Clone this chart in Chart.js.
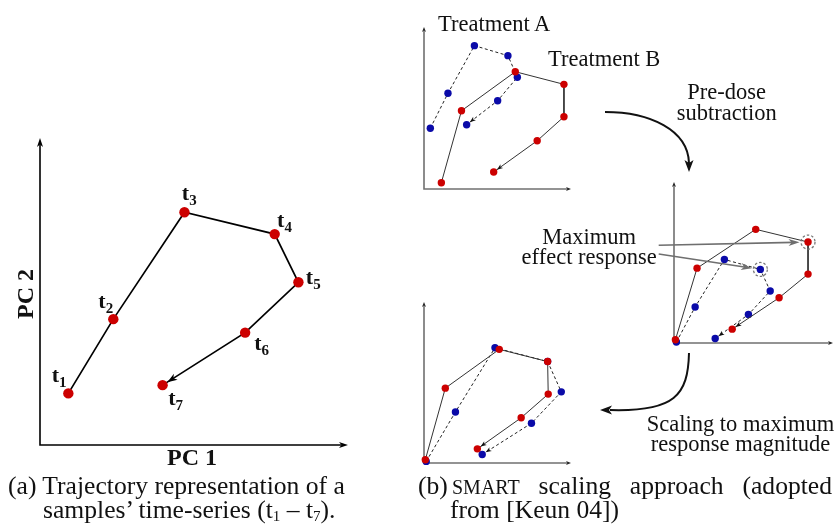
<!DOCTYPE html>
<html>
<head>
<meta charset="utf-8">
<script src="https://cdn.jsdelivr.net/npm/chart.js@4.4.1/dist/chart.umd.min.js"></script>
<style>
  html, body { margin: 0; padding: 0; background: #fff; }
  body { width: 837px; height: 531px; position: relative; overflow: hidden;
         font-family: "Liberation Serif", "DejaVu Serif", serif; color: #111; }
  .panel { position: absolute; }
  .panel canvas { display: block; }
  .note { position: absolute; white-space: nowrap; font-size: 22.5px; line-height: 22.5px; }
  .note.c { width: 300px; text-align: center; }
  .cap { position: absolute; white-space: nowrap; font-size: 25.6px; line-height: 25.6px; }
  .cap sub { font-size: 15px; vertical-align: -3px; line-height: 0; }
  .axis-title { position: absolute; white-space: nowrap; font-weight: bold; font-size: 24px; line-height: 24px; }
  svg.connectors { position: absolute; left: 0; top: 0; pointer-events: none; }
</style>
</head>
<body>

<!-- (a) trajectory in PC space -->
<div class="panel" style="left:0;top:0"><canvas id="trajectory" width="370" height="470"></canvas></div>
<div class="axis-title" style="left:192px;top:445px;transform:translateX(-50%)">PC 1</div>
<div class="axis-title" style="left:25px;top:294px;transform:translate(-50%,-50%) rotate(-90deg)">PC 2</div>

<!-- (b) three stages of the SMART scaling -->
<div class="panel" style="left:410px;top:15px"><canvas id="rawChart" width="185" height="185"></canvas></div>
<div class="panel" style="left:520px;top:170px"><canvas id="subtractedChart" width="317" height="185"></canvas></div>
<div class="panel" style="left:410px;top:290px"><canvas id="scaledChart" width="185" height="185"></canvas></div>

<div class="note" style="left:438px;top:12.9px">Treatment A</div>
<div class="note" style="left:548px;top:47.9px">Treatment B</div>
<div class="note c" style="left:576.7px;top:81.2px">Pre-dose</div>
<div class="note c" style="left:576.7px;top:101.9px">subtraction</div>
<div class="note c" style="left:439.2px;top:226.2px">Maximum</div>
<div class="note c" style="left:439.2px;top:246.2px">effect response</div>
<div class="note c" style="left:590.5px;top:412.9px">Scaling to maximum</div>
<div class="note c" style="left:590.5px;top:432.9px">response magnitude</div>

<svg class="connectors" width="837" height="531">
  <path d="M605,112 C650,112 688,130 689,163" fill="none" stroke="#111" stroke-width="2"/>
  <polygon points="689,172 684.5,160 689,163 693.5,160" fill="#111"/>
  <path d="M689,353 C688,395 675,412 610,410" fill="none" stroke="#111" stroke-width="2"/>
  <polygon points="600,410 612,405.5 609,410 612,414.5" fill="#111"/>
</svg>

<!-- captions -->
<div class="cap" style="left:8px;top:472.6px">(a) Trajectory representation of a</div>
<div class="cap" style="left:43px;top:496.9px">samples’ time-series (t<sub>1</sub> – t<sub>7</sub>).</div>
<div class="cap" style="left:418px;top:472.6px">(b)</div>
<div class="cap" style="left:452px;top:472.6px;width:380px;display:flex;justify-content:space-between;align-items:baseline">
  <span style="font-size:20px">SMART</span><span>scaling</span><span>approach</span><span>(adopted</span>
</div>
<div class="cap" style="left:450px;top:496.9px">from [Keun 04])</div>

<script>
// ---- (a) one sample's trajectory, PC scores at t1..t7 ----
const timeIndex = ['1', '2', '3', '4', '5', '6', '7'];
const pc1Scores = [0.92, 2.38, 4.69, 7.62, 8.39, 6.66, 3.98];
const pc2Scores = [1.68, 4.10, 7.58, 6.87, 5.30, 3.66, 1.95];

// ---- (b) raw trajectories of the two treatments ----
const rawA_x = [0.43, 1.63, 3.43, 5.71, 6.35, 5.01, 2.90];
const rawA_y = [3.75, 5.91, 8.85, 8.23, 6.90, 5.45, 3.97];
const rawB_x = [1.18, 2.55, 6.21, 9.52, 9.52, 7.70, 4.74];
const rawB_y = [0.39, 4.83, 7.24, 6.46, 4.46, 2.98, 1.05];

// after pre-dose subtraction
const subA_x = [0.15, 1.33, 3.17, 5.43, 6.05, 4.68, 2.59];
const subA_y = [0.06, 2.24, 5.19, 4.57, 3.23, 1.77, 0.28];
const subB_x = [0.09, 1.45, 5.14, 8.43, 8.43, 6.61, 3.66];
const subB_y = [0.20, 4.65, 7.06, 6.27, 4.28, 2.81, 0.86];

// after scaling to the maximum response magnitude
const scaledA_x = [0.15, 2.14, 4.83, 8.41, 9.34, 7.31, 3.96];
const scaledA_y = [0.10, 3.17, 7.16, 6.30, 4.42, 2.47, 0.53];
const scaledB_x = [0.09, 1.45, 5.12, 8.41, 8.45, 6.61, 3.63];
const scaledB_y = [0.20, 4.65, 7.06, 6.30, 4.28, 2.81, 0.88];

// index of the maximum effect response in each treatment
const maxResponseIndex = 3;

const RED = '#cc0000';
const BLUE = '#0a0aa8';

const pairs = (xs, ys) => xs.map((x, i) => ({ x, y: ys[i] }));

function drawHead(ctx, fromX, fromY, tipX, tipY, len, width, color) {
  const ang = Math.atan2(tipY - fromY, tipX - fromX);
  ctx.save();
  ctx.translate(tipX, tipY);
  ctx.rotate(ang);
  ctx.fillStyle = color;
  ctx.beginPath();
  ctx.moveTo(0, 0);
  ctx.lineTo(-len, -width / 2);
  ctx.lineTo(-len * 0.72, 0);
  ctx.lineTo(-len, width / 2);
  ctx.closePath();
  ctx.fill();
  ctx.restore();
}

// axes drawn as two arrows meeting at the origin of the chart area
const axisArrows = {
  id: 'axisArrows',
  beforeDatasetsDraw(chart, args, o) {
    const { ctx, chartArea: a } = chart;
    ctx.save();
    ctx.strokeStyle = o.color;
    ctx.lineWidth = o.width;
    ctx.beginPath();
    ctx.moveTo(a.left, a.top + o.head * 0.7);
    ctx.lineTo(a.left, a.bottom);
    ctx.lineTo(a.right - o.head * 0.7, a.bottom);
    ctx.stroke();
    ctx.restore();
    drawHead(ctx, a.left, a.bottom, a.left, a.top, o.head, o.headWidth, o.headColor);
    drawHead(ctx, a.left, a.bottom, a.right, a.bottom, o.head, o.headWidth, o.headColor);
  }
};

// arrowhead on the last segment of every trajectory
const endArrow = {
  id: 'endArrow',
  afterDatasetsDraw(chart, args, o) {
    const ctx = chart.ctx;
    chart.data.datasets.forEach((ds, i) => {
      const pts = chart.getDatasetMeta(i).data;
      const p = pts[pts.length - 2], q = pts[pts.length - 1];
      const dx = q.x - p.x, dy = q.y - p.y, d = Math.hypot(dx, dy);
      const r = ds.pointRadius + o.gap;
      drawHead(ctx, p.x, p.y, q.x - dx / d * r, q.y - dy / d * r, o.len, o.width, o.color);
    });
  }
};

// t1..t7 labels beside the points
const timeLabels = {
  id: 'timeLabels',
  afterDatasetsDraw(chart, args, o) {
    const ctx = chart.ctx;
    ctx.save();
    ctx.fillStyle = '#111';
    ctx.textBaseline = 'alphabetic';
    chart.getDatasetMeta(0).data.forEach((pt, i) => {
      const [dx, dy] = o.offsets[i];
      ctx.font = 'bold 22px "Liberation Serif"';
      ctx.fillText('t', pt.x + dx, pt.y + dy);
      const w = ctx.measureText('t').width;
      ctx.font = 'bold 15px "Liberation Serif"';
      ctx.fillText(timeIndex[i], pt.x + dx + w, pt.y + dy + 5);
    });
    ctx.restore();
  }
};

// dashed rings on the maximum responses and the arrows from their label
const maxMarkers = {
  id: 'maxMarkers',
  afterDatasetsDraw(chart, args, o) {
    const ctx = chart.ctx;
    ctx.save();
    o.links.forEach(link => {
      const pt = chart.getDatasetMeta(link.dataset).data[maxResponseIndex];
      ctx.strokeStyle = '#777';
      ctx.lineWidth = 1.3;
      ctx.setLineDash([2.5, 2]);
      ctx.beginPath();
      ctx.arc(pt.x, pt.y, o.ring, 0, Math.PI * 2);
      ctx.stroke();
      ctx.setLineDash([]);
      const dx = pt.x - link.from[0], dy = pt.y - link.from[1], d = Math.hypot(dx, dy);
      const tipX = pt.x - dx / d * (o.ring + 1.5), tipY = pt.y - dy / d * (o.ring + 1.5);
      ctx.strokeStyle = '#6f6f6f';
      ctx.lineWidth = 1.6;
      ctx.beginPath();
      ctx.moveTo(link.from[0], link.from[1]);
      ctx.lineTo(tipX - dx / d * 6, tipY - dy / d * 6);
      ctx.stroke();
      drawHead(ctx, link.from[0], link.from[1], tipX, tipY, 11, 7, '#6f6f6f');
    });
    ctx.restore();
  }
};

function baseOptions(padding, extra) {
  return {
    responsive: false,
    animation: false,
    events: [],
    layout: { padding },
    scales: {
      x: { type: 'linear', min: 0, max: 10, display: false },
      y: { type: 'linear', min: 0, max: 10, display: false }
    },
    plugins: Object.assign({ legend: { display: false }, tooltip: { enabled: false } }, extra)
  };
}

const smallAxes = { color: '#707070', width: 1.6, head: 5, headWidth: 4, headColor: '#222' };
const smallArrow = { gap: 0.3, len: 6, width: 4.5, color: '#111' };

function treatmentSets(ax, ay, bx, by) {
  const common = { showLine: true, borderWidth: 1, pointRadius: 3.7, pointBorderWidth: 0, clip: false };
  return [
    Object.assign({ label: 'Treatment B', data: pairs(bx, by), borderColor: '#333',
                    pointBackgroundColor: RED }, common),
    Object.assign({ label: 'Treatment A', data: pairs(ax, ay), borderColor: '#222',
                    borderDash: [3, 2.5], pointBackgroundColor: BLUE }, common)
  ];
}

new Chart(document.getElementById('trajectory'), {
  type: 'scatter',
  data: {
    datasets: [{
      label: 'Sample',
      data: pairs(pc1Scores, pc2Scores),
      showLine: true,
      borderColor: '#000',
      borderWidth: 1.7,
      pointRadius: 5.2,
      pointBorderWidth: 0,
      pointBackgroundColor: RED,
      clip: false
    }]
  },
  options: baseOptions({ left: 40, top: 138, right: 22, bottom: 25 }, {
    axisArrows: { color: '#000', width: 1.6, head: 9, headWidth: 6, headColor: '#000' },
    endArrow: { gap: 0.4, len: 10, width: 7, color: '#000' },
    timeLabels: { offsets: [[-16.6, -11.6], [-15, -10.7], [-2.6, -12.3], [2.4, -7.3],
                            [7.4, 1.6], [9, 17.3], [5.6, 20]] }
  }),
  plugins: [axisArrows, endArrow, timeLabels]
});

new Chart(document.getElementById('rawChart'), {
  type: 'scatter',
  data: { datasets: treatmentSets(rawA_x, rawA_y, rawB_x, rawB_y) },
  options: baseOptions({ left: 14, top: 12, right: 24, bottom: 11 }, {
    axisArrows: smallAxes, endArrow: smallArrow
  }),
  plugins: [axisArrows, endArrow]
});

new Chart(document.getElementById('subtractedChart'), {
  type: 'scatter',
  data: { datasets: treatmentSets(subA_x, subA_y, subB_x, subB_y) },
  options: baseOptions({ left: 154, top: 12, right: 2, bottom: 12 }, {
    axisArrows: smallAxes, endArrow: smallArrow,
    maxMarkers: { ring: 7, links: [{ dataset: 0, from: [138.7, 75.3] }, { dataset: 1, from: [138.7, 84] }] }
  }),
  plugins: [axisArrows, endArrow, maxMarkers]
});

new Chart(document.getElementById('scaledChart'), {
  type: 'scatter',
  data: { datasets: treatmentSets(scaledA_x, scaledA_y, scaledB_x, scaledB_y) },
  options: baseOptions({ left: 14, top: 12, right: 24, bottom: 12 }, {
    axisArrows: smallAxes, endArrow: smallArrow
  }),
  plugins: [axisArrows, endArrow]
});
</script>
</body>
</html>
